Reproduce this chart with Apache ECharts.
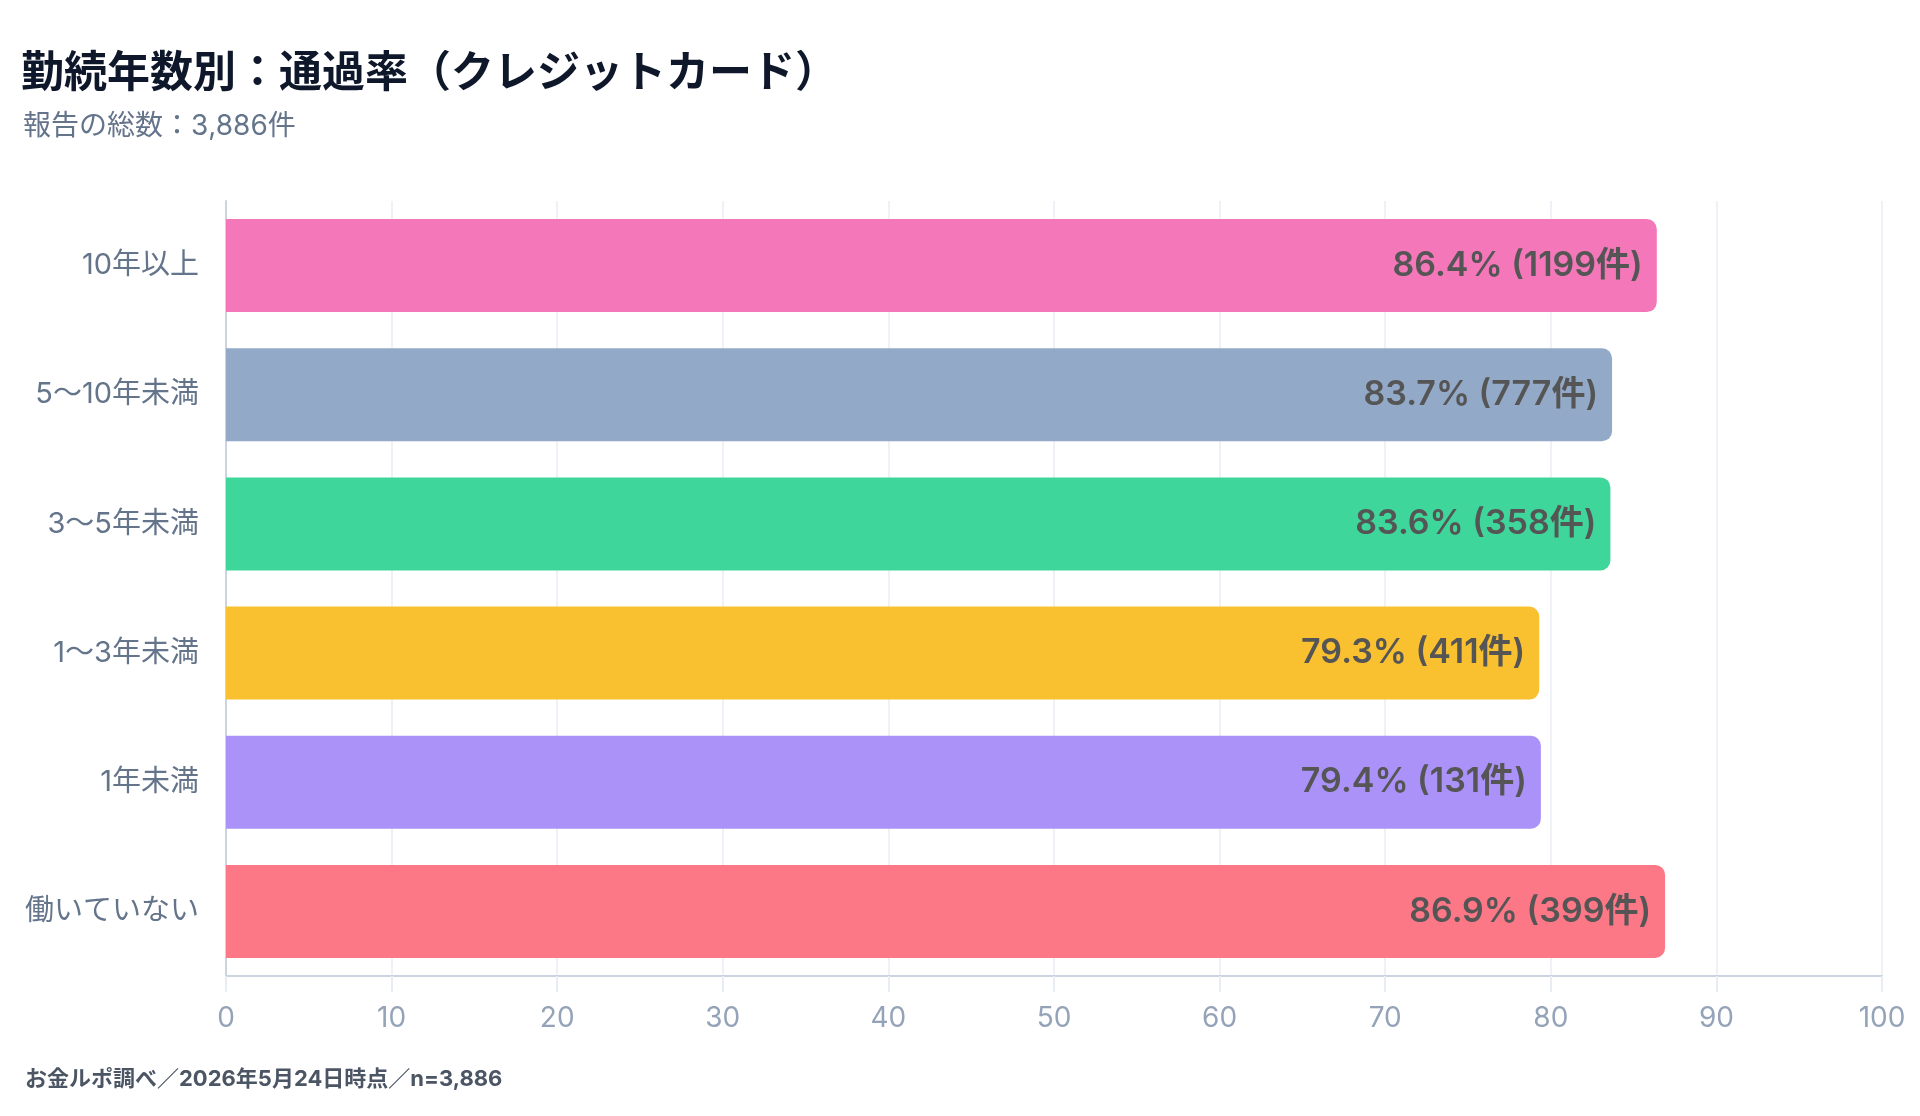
<!DOCTYPE html>
<html><head><meta charset="utf-8">
<script src="https://cdn.jsdelivr.net/npm/echarts@6/dist/echarts.min.js"></script>
<style>html,body{margin:0;padding:0;background:#fff}#c{width:1920px;height:1116px}</style>
</head><body><div id="c"></div>
<script>
const categories = ['10年以上','5〜10年未満','3〜5年未満','1〜3年未満','1年未満','働いていない'];
const rates = [86.4, 83.7, 83.6, 79.3, 79.4, 86.9];
const counts = [1199, 777, 358, 411, 131, 399];
const colors = ['#f477b9','#93a9c8','#3fd69c','#f9c130','#ab92f9','#fc7887'];
const xTicks = [0,10,20,30,40,50,60,70,80,90,100];
const titleText = '勤続年数別：通過率（クレジットカード）';
const subText = '報告の総数：3,886件';
const footText = 'お金ルポ調べ／2026年5月24日時点／n=3,886';

const FONT = 'Inter,"Noto Sans CJK JP","Noto Sans",sans-serif';
const chart = echarts.init(document.getElementById('c'), null, {renderer:'canvas'});
chart.setOption({
  animation:false,
  backgroundColor:'#fff',
  title:[
    {text:titleText,left:16,top:48,textStyle:{fontFamily:FONT,fontSize:43,fontWeight:'bold',color:'#0f172a'}},
    {text:subText,left:18,top:108,textStyle:{fontFamily:FONT,fontSize:28,fontWeight:'normal',color:'#64748b'}},
    {text:footText,left:20,top:1063,textStyle:{fontFamily:FONT,fontSize:22,fontWeight:'bold',color:'#4b5563'}}
  ],
  grid:{left:226,right:38,top:201,bottom:140,containLabel:false},
  xAxis:{type:'value',min:0,max:100,interval:10,
    axisLine:{show:true,lineStyle:{color:'#cbd5e1',width:2}},
    axisTick:{show:true,length:16,lineStyle:{color:'#e8edf3',width:2}},
    splitLine:{show:true,lineStyle:{color:'#eef2f7',width:2}},
    axisLabel:{color:'#94a3b8',fontSize:28,fontFamily:FONT,margin:29,
      formatter:v=>xTicks.includes(v)?String(v):''}},
  yAxis:{type:'category',data:categories,inverse:true,
    axisLine:{show:true,lineStyle:{color:'#cbd5e1',width:2}},
    axisTick:{show:false},
    axisLabel:{color:'#64748b',fontSize:29,fontFamily:FONT,margin:27}},
  series:[{type:'bar',barCategoryGap:'28%',
    data:rates.map((v,i)=>({value:v,itemStyle:{color:colors[i],borderRadius:[0,10,10,0]}})),
    label:{show:true,position:'insideRight',distance:14,fontFamily:FONT,fontSize:34,fontWeight:600,color:'#555555',
      formatter:p=>p.value+'% ('+counts[p.dataIndex]+'件)'}}]
});
</script></body></html>
